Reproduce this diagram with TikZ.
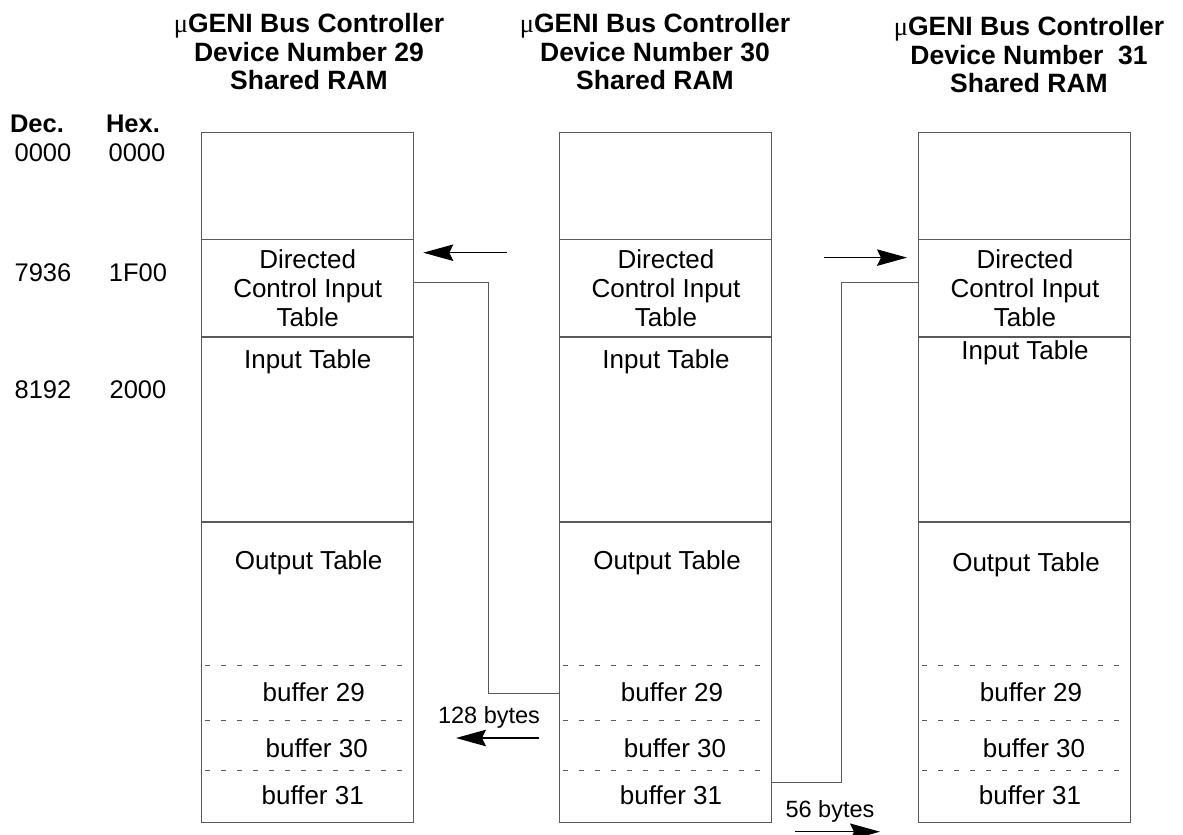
\documentclass[tikz,border=0pt]{standalone}
\usepackage{fontspec}
\setmainfont{Liberation Sans}
\newfontfamily\greekserif{Liberation Serif}
\usetikzlibrary{positioning, arrows.meta, calc}

\begin{document}
\begin{tikzpicture}[x=1pt, y=-1pt, >={Stealth[length=30pt, width=16.5pt, inset=4pt]},
    ram/.style={draw=black!65, line width=1.2pt, minimum width=212pt, minimum height=690pt, inner sep=0pt, anchor=north west},
    sep/.style={draw=black!65, line width=1.1pt},
    bufsep/.style={draw=black!65, line width=1pt, dash pattern=on 5pt off 11pt},
    title/.style={font=\fontsize{26.5}{28.5}\selectfont\bfseries, align=center},
    cell/.style={font=\fontsize{26}{29}\selectfont, align=center},
    addr/.style={font=\fontsize{25.5}{29}\selectfont},
    bytes/.style={font=\fontsize{23.5}{26}\selectfont},
    link/.style={draw=black!65, line width=1.1pt},
    flow/.style={->, line width=1.2pt}]
    \useasboundingbox (0,0) rectangle (1183,835);
    % Titles
    \node[title] (t29) at (309,52) {{\mdseries\greekserif μ}GENI Bus Controller\\Device Number 29\\Shared RAM};
    \node[title] (t30) at (655,52) {{\mdseries\greekserif μ}GENI Bus Controller\\Device Number 30\\Shared RAM};
    \node[title] (t31) at (1029,55) {{\mdseries\greekserif μ}GENI Bus Controller\\Device Number~~31\\Shared RAM};
    % Address column
    \node[addr, font=\fontsize{25.5}{29}\selectfont\bfseries] (dec) at (37,124) {Dec.};
    \node[addr, font=\fontsize{25.5}{29}\selectfont\bfseries] (hex) at (133,124) {Hex.};
    \node[addr] (d0) at (43,153) {0000};
    \node[addr] (h0) at (137,153) {0000};
    \node[addr] (d1) at (43,273) {7936};
    \node[addr] (h1) at (138,273) {1F00};
    \node[addr] (d2) at (43,390) {8192};
    \node[addr] (h2) at (138,390) {2000};
    % Shared RAM maps
    \foreach \n/\x/\iy/\oy in {29/200.7/362/563, 30/559/362/563, 31/918/353/565} {
        \node[ram] (ram\n) at (\x,132) {};
        \draw[sep] (\x,239.5) -- (\x+212,239.5);
        \draw[sep] (\x,337) -- (\x+212,337);
        \draw[sep] (\x,522) -- (\x+212,522);
        \foreach \y in {665.7, 720.3, 770.7}
            \draw[bufsep] (\x+4,\y) -- (\x+208,\y);
        \node[cell] (dcit\n) at (\x+107,288) {Directed\\Control Input\\Table};
        \node[cell] (in\n) at (\x+107,\iy) {Input Table};
        \node[cell] (out\n) at (\x+108,\oy) {Output Table};
        \foreach \b/\dx/\by in {29/7/692, 30/10/748, 31/6/795}
            \node[cell] (buf\n-\b) at (\x+106+\dx,\by) {buffer \b};
    }
    % Directed control input links
    \coordinate (dcA) at (412.7,282.3);
    \coordinate (bufB) at (559,693.3);
    \draw[link] (dcA) -- (488.3,282.3) |- (bufB);
    \coordinate (bufBr) at (771.3,782.7);
    \coordinate (dcC) at (918,282.7);
    \draw[link] (bufBr) -| (841.7,282.7) -- (dcC);
    % Arrows
    \coordinate (fromL) at (506.7,252.7);
    \coordinate (toL) at (423.3,252.7);
    \draw[flow] (fromL) -- (toL);
    \coordinate (fromR) at (824,257.6);
    \coordinate (toR) at (907,257.6);
    \draw[flow] (fromR) -- (toR);
    \coordinate (from128) at (539,738);
    \coordinate (to128) at (456,738);
    \draw[flow] (from128) -- (to128);
    \node[bytes] (b128) at (489,717) {128 bytes};
    \coordinate (from56) at (795,831.7);
    \coordinate (to56) at (880,831.7);
    \draw[flow] (from56) -- (to56);
    \node[bytes] (b56) at (830,811.7) {56 bytes};
\end{tikzpicture}
\end{document}
